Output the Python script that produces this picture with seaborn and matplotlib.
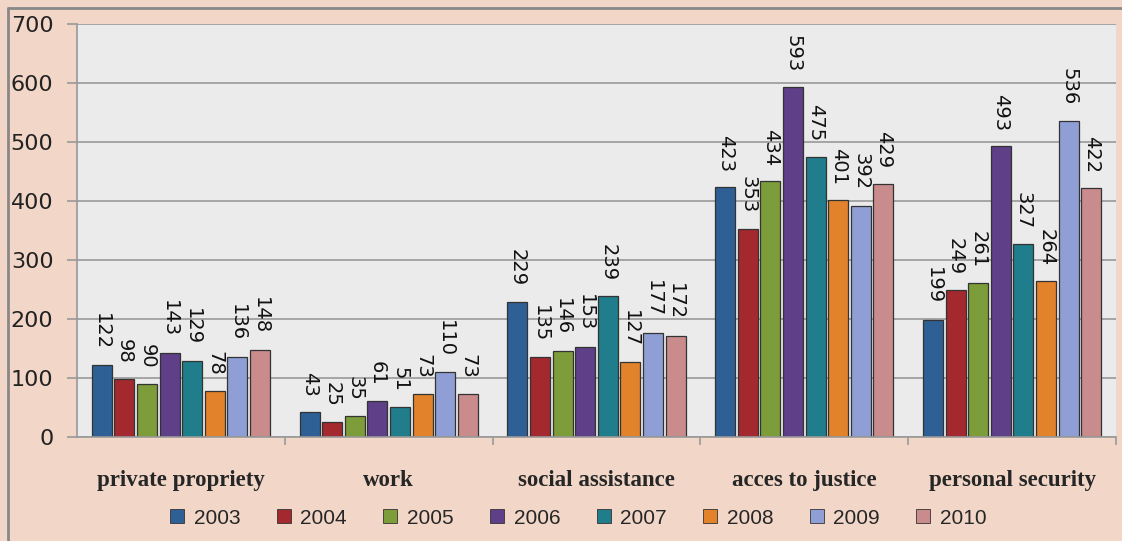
import pandas as pd
import seaborn as sns
import matplotlib.pyplot as plt
from matplotlib.lines import Line2D
from matplotlib.ticker import FixedLocator

#%% data
categories = ['private propriety', 'work', 'social assistance',
              'acces to justice', 'personal security']
years = ['2003', '2004', '2005', '2006', '2007', '2008', '2009', '2010']

v2003 = [122, 43, 229, 423, 199]
v2004 = [98, 25, 135, 353, 249]
v2005 = [90, 35, 146, 434, 261]
v2006 = [143, 61, 153, 593, 493]
v2007 = [129, 51, 239, 475, 327]
v2008 = [78, 73, 127, 401, 264]
v2009 = [136, 110, 177, 392, 536]
v2010 = [148, 73, 172, 429, 422]

colors = ['#2e5f95', '#a3292e', '#7d9c3a', '#5e3f88', '#1f7d8c',
          '#e2822b', '#8f9fd6', '#c98b8c']

#%% long table for seaborn
series = [v2003, v2004, v2005, v2006, v2007, v2008, v2009, v2010]
rows = []
for yr, vals in zip(years, series):
    for cat, v in zip(categories, vals):
        rows.append({'category': cat, 'year': yr, 'value': v})
df = pd.DataFrame(rows)

#%% plot
sns.set_style('white')
peach = '#f2d7c8'
fig = plt.figure(figsize=(11.22, 5.41), dpi=100, facecolor=peach)
ax = fig.add_axes([77 / 1122, 1 - 437 / 541, (1116 - 77) / 1122, (437 - 24) / 541])
ax.set_facecolor('#ebebeb')

sns.barplot(data=df, x='category', y='value', hue='year', palette=colors,
            saturation=1, width=0.87, gap=0.12, edgecolor='#333333',
            linewidth=0.9, ax=ax, legend=False)

for c in ax.containers:
    ax.bar_label(c, padding=11, rotation=270, fontsize=14, color='#111111')

ax.set_ylim(0, 700)
ax.set_yticks(range(0, 701, 100))
ax.set_xlim(-0.5, 4.5)
ax.yaxis.grid(True, color='#999999', linewidth=1.2)
ax.set_axisbelow(True)
for s in ['top', 'right']:
    ax.spines[s].set_visible(False)
ax.spines['left'].set_color('#999999')
ax.spines['bottom'].set_color('#999999')
ax.spines['left'].set_linewidth(1.2)
ax.spines['bottom'].set_linewidth(1.2)

ax.tick_params(axis='y', length=7, width=1.2, color='#999999', labelsize=16,
               labelcolor='#222222', pad=10, left=True)
ax.tick_params(axis='x', which='major', length=0, pad=24)
ax.xaxis.set_minor_locator(FixedLocator([0.5, 1.5, 2.5, 3.5, 4.5]))
ax.tick_params(axis='x', which='minor', length=6, width=1.2, color='#999999', bottom=True)
ax.set_xticks(range(len(categories)))
ax.set_xticklabels(categories, fontsize=16.5, fontweight='bold', family='Liberation Serif')
ax.set_xlabel('')
ax.set_ylabel('')

handles = [Line2D([], [], marker='s', linestyle='', markersize=10,
                  markerfacecolor=col, markeredgecolor='#333333', markeredgewidth=0.6)
           for col in colors]
leg = fig.legend(handles, years, loc='center', bbox_to_anchor=(0.514, 1 - 518 / 541),
                 ncol=8, frameon=False, handletextpad=0.3,
                 columnspacing=1.58, handlelength=1.0,
                 prop={'family': 'Liberation Sans', 'size': 15})

# outer frame lines (top and left)
fig.add_artist(Line2D([8 / 1122, 1], [1 - 8 / 541, 1 - 8 / 541], color='#888888', linewidth=2))
fig.add_artist(Line2D([8 / 1122, 8 / 1122], [0, 1 - 8 / 541], color='#888888', linewidth=2))

fig.savefig('out.png', dpi=100, facecolor=peach)
